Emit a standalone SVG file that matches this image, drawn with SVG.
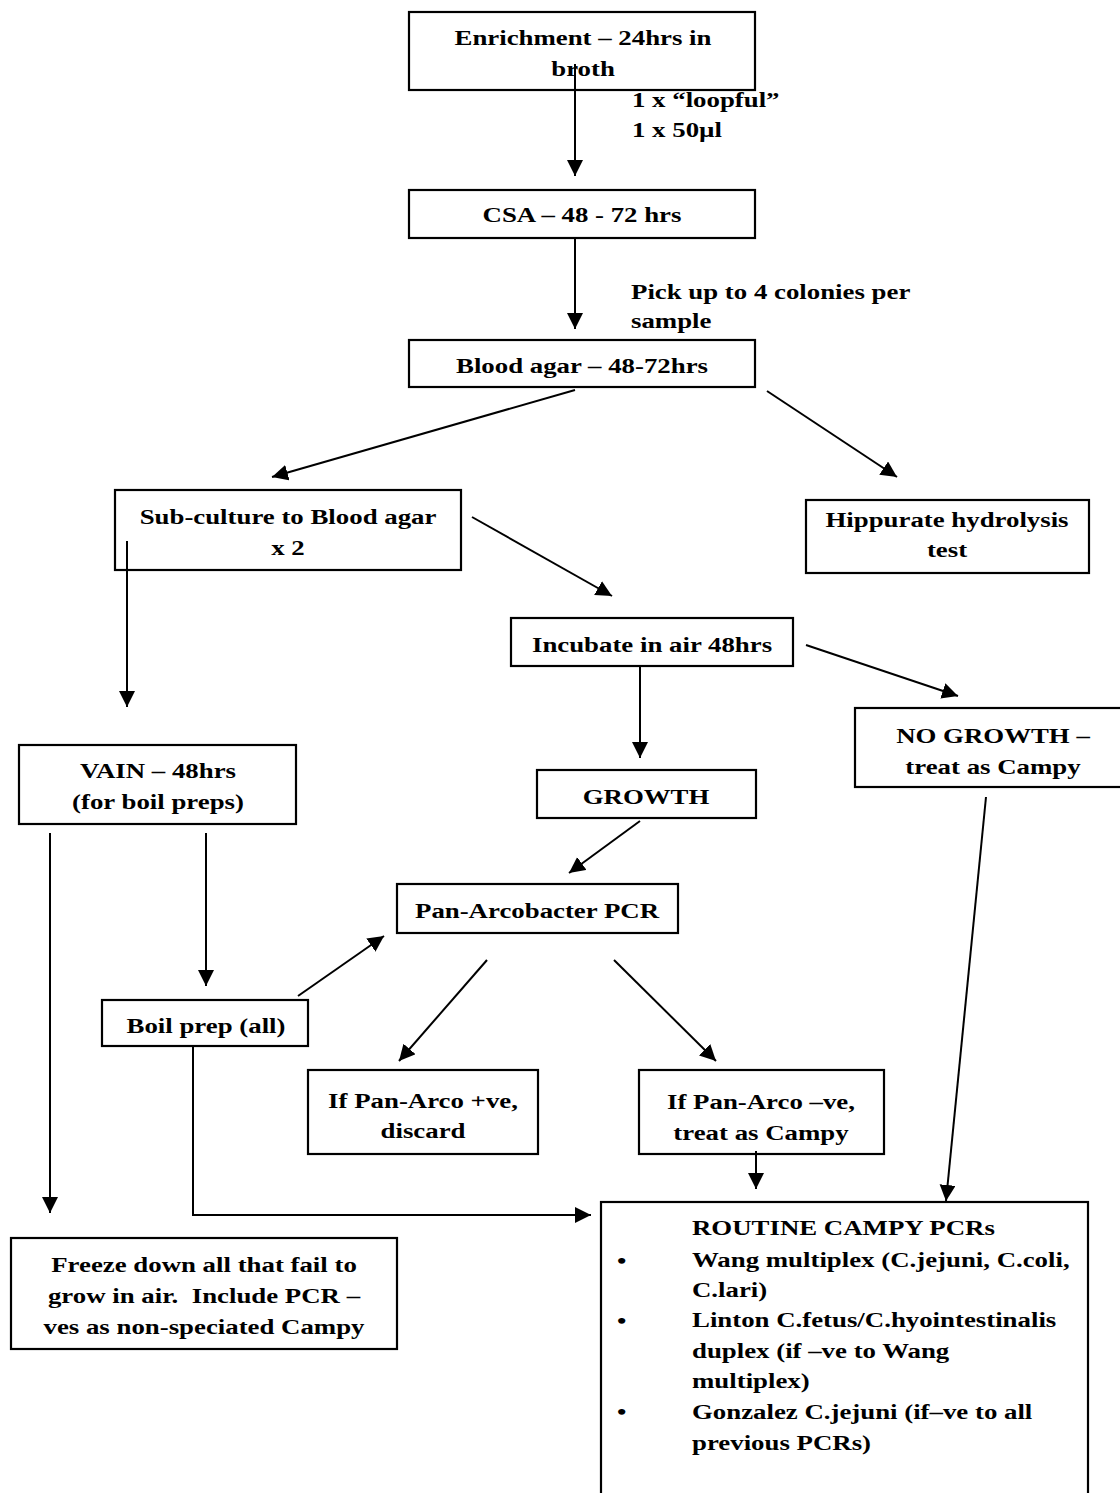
<svg xmlns="http://www.w3.org/2000/svg" width="1120" height="1493" viewBox="0 0 1120 1493">
<style>
.box{fill:#fff;stroke:#000;stroke-width:2.2}
.t{font-family:"Liberation Serif","Times New Roman",serif;font-weight:bold;font-size:22px;fill:#000}
.c{text-anchor:middle}
.ln{fill:none;stroke:#000;stroke-width:2}
</style>
<defs>
<marker id="ah" markerUnits="userSpaceOnUse" markerWidth="18" markerHeight="18" refX="16" refY="8" orient="auto">
<path d="M0,0 L16,8 L0,16 Z" fill="#000"/>
</marker>
</defs>
<rect width="1120" height="1493" fill="#fff"/>

<g id="n-enrich">
<rect class="box" x="409" y="12" width="346" height="78"/>
<text class="t c" transform="translate(583 45) scale(1.22 1)">Enrichment – 24hrs in</text>
<text class="t c" transform="translate(583 76) scale(1.22 1)">broth</text>
</g>
<g id="n-csa">
<rect class="box" x="409" y="190" width="346" height="48"/>
<text class="t c" transform="translate(582 222) scale(1.22 1)">CSA – 48 - 72 hrs</text>
</g>
<g id="n-blood">
<rect class="box" x="409" y="340" width="346" height="47"/>
<text class="t c" transform="translate(582 373) scale(1.22 1)">Blood agar – 48-72hrs</text>
</g>
<g id="n-sub">
<rect class="box" x="115" y="490" width="346" height="80"/>
<text class="t c" transform="translate(288 524) scale(1.22 1)">Sub-culture to Blood agar</text>
<text class="t c" transform="translate(288 555) scale(1.22 1)">x 2</text>
</g>
<g id="n-hipp">
<rect class="box" x="806" y="500" width="283" height="73"/>
<text class="t c" transform="translate(947 527) scale(1.22 1)">Hippurate hydrolysis</text>
<text class="t c" transform="translate(947 557) scale(1.22 1)">test</text>
</g>
<g id="n-incub">
<rect class="box" x="511" y="618" width="282" height="48"/>
<text class="t c" transform="translate(652 652) scale(1.22 1)">Incubate in air 48hrs</text>
</g>
<g id="n-nogrowth">
<rect class="box" x="855" y="708" width="270" height="79"/>
<text class="t c" transform="translate(993 743) scale(1.22 1)">NO GROWTH –</text>
<text class="t c" transform="translate(993 774) scale(1.22 1)">treat as Campy</text>
</g>
<g id="n-vain">
<rect class="box" x="19" y="745" width="277" height="79"/>
<text class="t c" transform="translate(158 778) scale(1.22 1)">VAIN – 48hrs</text>
<text class="t c" transform="translate(158 809) scale(1.22 1)">(for boil preps)</text>
</g>
<g id="n-growth">
<rect class="box" x="537" y="770" width="219" height="48"/>
<text class="t c" transform="translate(646 804) scale(1.22 1)">GROWTH</text>
</g>
<g id="n-pan">
<rect class="box" x="397" y="884" width="281" height="49"/>
<text class="t c" transform="translate(537 918) scale(1.22 1)">Pan-Arcobacter PCR</text>
</g>
<g id="n-boil">
<rect class="box" x="102" y="1000" width="206" height="46"/>
<text class="t c" transform="translate(206 1033) scale(1.22 1)">Boil prep (all)</text>
</g>
<g id="n-pos">
<rect class="box" x="308" y="1070" width="230" height="84"/>
<text class="t c" transform="translate(423 1108) scale(1.22 1)">If Pan-Arco +ve,</text>
<text class="t c" transform="translate(423 1138) scale(1.22 1)">discard</text>
</g>
<g id="n-neg">
<rect class="box" x="639" y="1070" width="245" height="84"/>
<text class="t c" transform="translate(761 1109) scale(1.22 1)">If Pan-Arco –ve,</text>
<text class="t c" transform="translate(761 1140) scale(1.22 1)">treat as Campy</text>
</g>
<g id="n-routine">
<rect class="box" x="601" y="1202" width="487" height="300"/>
<text class="t" transform="translate(692 1235) scale(1.22 1)">ROUTINE CAMPY PCRs</text>
<text class="t" transform="translate(617 1268) scale(1.22 1)">•</text>
<text class="t" transform="translate(692 1267) scale(1.22 1)">Wang multiplex (C.jejuni, C.coli,</text>
<text class="t" transform="translate(692 1297) scale(1.22 1)">C.lari)</text>
<text class="t" transform="translate(617 1328) scale(1.22 1)">•</text>
<text class="t" transform="translate(692 1327) scale(1.22 1)">Linton C.fetus/C.hyointestinalis</text>
<text class="t" transform="translate(692 1358) scale(1.22 1)">duplex (if –ve to Wang</text>
<text class="t" transform="translate(692 1388) scale(1.22 1)">multiplex)</text>
<text class="t" transform="translate(617 1419) scale(1.22 1)">•</text>
<text class="t" transform="translate(692 1419) scale(1.22 1)">Gonzalez C.jejuni (if–ve to all</text>
<text class="t" transform="translate(692 1450) scale(1.22 1)">previous PCRs)</text>
</g>
<g id="n-freeze">
<rect class="box" x="11" y="1238" width="386" height="111"/>
<text class="t c" transform="translate(204 1272) scale(1.22 1)">Freeze down all that fail to</text>
<text class="t c" transform="translate(204 1303) scale(1.22 1)" xml:space="preserve">grow in air.  Include PCR –</text>
<text class="t c" transform="translate(204 1334) scale(1.22 1)">ves as non-speciated Campy</text>
</g>
<g id="n-labels">
<text class="t" transform="translate(632 107) scale(1.22 1)">1 x “loopful”</text>
<text class="t" transform="translate(632 137) scale(1.22 1)">1 x 50µl</text>
<text class="t" transform="translate(631 299) scale(1.22 1)">Pick up to 4 colonies per</text>
<text class="t" transform="translate(631 328) scale(1.22 1)">sample</text>
</g>

<g id="connectors">
<line class="ln" x1="575" y1="64" x2="575" y2="176" marker-end="url(#ah)"/>
<line class="ln" x1="575" y1="238" x2="575" y2="329" marker-end="url(#ah)"/>
<line class="ln" x1="575" y1="390" x2="272" y2="477" marker-end="url(#ah)"/>
<line class="ln" x1="767" y1="391" x2="897" y2="477" marker-end="url(#ah)"/>
<line class="ln" x1="472" y1="517" x2="612" y2="596" marker-end="url(#ah)"/>
<line class="ln" x1="127" y1="541" x2="127" y2="707" marker-end="url(#ah)"/>
<line class="ln" x1="640" y1="666" x2="640" y2="758" marker-end="url(#ah)"/>
<line class="ln" x1="806" y1="645" x2="958" y2="696" marker-end="url(#ah)"/>
<line class="ln" x1="986" y1="797" x2="946" y2="1201" marker-end="url(#ah)"/>
<line class="ln" x1="640" y1="821" x2="569" y2="873" marker-end="url(#ah)"/>
<line class="ln" x1="50" y1="833" x2="50" y2="1213" marker-end="url(#ah)"/>
<line class="ln" x1="206" y1="833" x2="206" y2="986" marker-end="url(#ah)"/>
<line class="ln" x1="298" y1="996" x2="384" y2="936" marker-end="url(#ah)"/>
<line class="ln" x1="487" y1="960" x2="399" y2="1061" marker-end="url(#ah)"/>
<line class="ln" x1="614" y1="960" x2="716" y2="1061" marker-end="url(#ah)"/>
<line class="ln" x1="756" y1="1151" x2="756" y2="1189" marker-end="url(#ah)"/>
<polyline class="ln" points="193,1046 193,1215 591,1215" marker-end="url(#ah)"/>
</g>
</svg>
